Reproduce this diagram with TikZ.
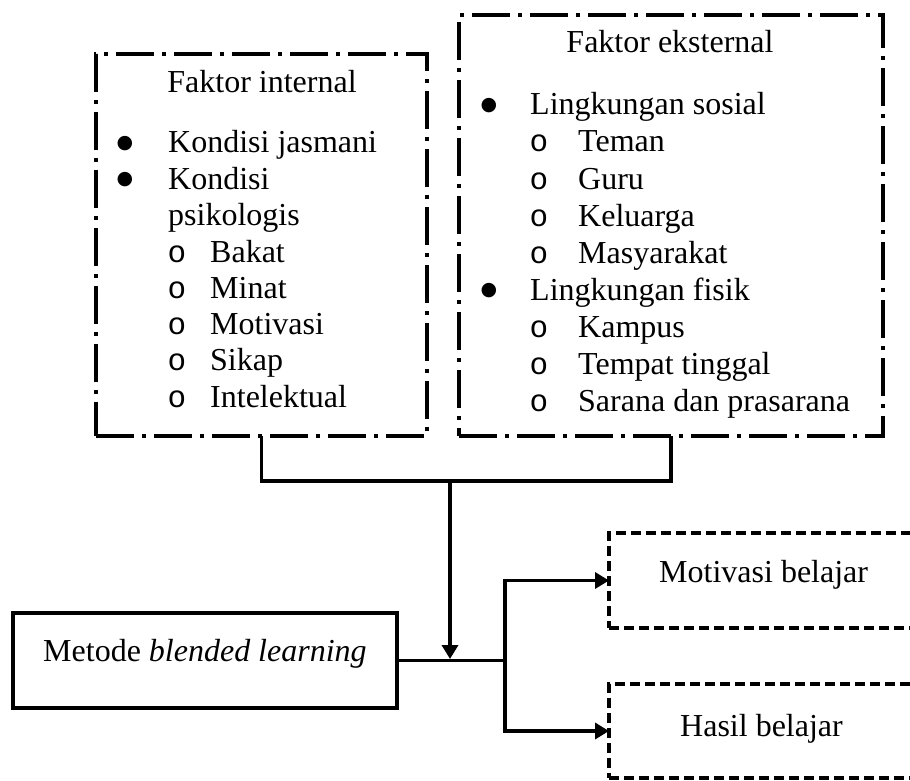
\documentclass[tikz,border=0pt]{standalone}
\usepackage{fontspec}
\setmainfont{Liberation Serif}
\newfontfamily\monofnt{Liberation Mono}
\newfontfamily\symfnt{DejaVu Sans}
\usetikzlibrary{arrows.meta}
\begin{document}
\begin{tikzpicture}[x=1pt,y=-1pt,
  dashdot/.style={draw, line width=4pt, dash pattern=on 38pt off 8pt on 4pt off 8pt},
  dashbox/.style={draw, line width=3.3pt, dash pattern=on 10pt off 5pt},
  solidbox/.style={draw, line width=3.5pt},
  box/.style={rectangle, inner sep=0pt, outer sep=0pt},
  txt/.style={anchor=base west, inner sep=0pt, font=\fontsize{32}{37}\selectfont},
  ctxt/.style={anchor=base, inner sep=0pt, font=\fontsize{32}{37}\selectfont},
  bul/.style={anchor=base, inner sep=0pt, yshift=4.5pt, font=\fontsize{19}{22}\selectfont\symfnt},
  subo/.style={anchor=base, inner sep=0pt, font=\fontsize{31}{37}\selectfont\monofnt},
  conn/.style={line width=3.5pt},
  arr/.style={conn, -{Triangle[length=14pt,width=16pt]}},
]
\clip (0,0) rectangle (910,781);

% boxes
\node[box, dashdot, minimum width=331pt, minimum height=382pt] (int) at (261.5,245) {};
\node[box, dashdot, minimum width=424pt, minimum height=421pt] (ext) at (671,225.5) {};
\node[box, solidbox, minimum width=384pt, minimum height=95pt] (met) at (205,660.5) {};
\node[box, dashbox, minimum width=321pt, minimum height=95pt] (mot) at (769.5,580.5) {};
\node[box, dashbox, minimum width=321pt, minimum height=94pt] (has) at (769.5,731) {};

% internal text
\node[ctxt] (intT) at (262,93) {Faktor internal};
\node[bul] (ib1) at (125,153) {●};
\node[txt] (i1) at (168,153) {Kondisi jasmani};
\node[bul] (ib2) at (125,189.3) {●};
\node[txt] (i2) at (168,189.3) {Kondisi};
\node[txt] (i3) at (168,225.6) {psikologis};
\node[subo] (io1) at (177,262) {o};
\node[txt] (i4) at (210,262) {Bakat};
\node[subo] (io2) at (177,298.3) {o};
\node[txt] (i5) at (210,298.3) {Minat};
\node[subo] (io3) at (177,334.6) {o};
\node[txt] (i6) at (210,334.6) {Motivasi};
\node[subo] (io4) at (177,370.9) {o};
\node[txt] (i7) at (210,370.9) {Sikap};
\node[subo] (io5) at (177,407.2) {o};
\node[txt] (i8) at (210,407.2) {Intelektual};

% external text
\node[ctxt] (extT) at (670,53) {Faktor eksternal};
\node[bul] (eb1) at (489,115) {●};
\node[txt] (e1) at (530,115) {Lingkungan sosial};
\node[subo] (eo1) at (539,152) {o};
\node[txt] (e2) at (578,152) {Teman};
\node[subo] (eo2) at (539,189) {o};
\node[txt] (e3) at (578,189) {Guru};
\node[subo] (eo3) at (539,226) {o};
\node[txt] (e4) at (578,226) {Keluarga};
\node[subo] (eo4) at (539,263) {o};
\node[txt] (e5) at (578,263) {Masyarakat};
\node[bul] (eb2) at (489,300) {●};
\node[txt] (e6) at (530,300) {Lingkungan fisik};
\node[subo] (eo5) at (539,337) {o};
\node[txt] (e7) at (578,337) {Kampus};
\node[subo] (eo6) at (539,374) {o};
\node[txt] (e8) at (578,374) {Tempat tinggal};
\node[subo] (eo7) at (539,411) {o};
\node[txt] (e9) at (578,411) {Sarana dan prasarana};

% lower texts
\node[txt] (metT) at (43,661) {Metode \textit{blended learning}};
\node[txt] (motT) at (659,582) {Motivasi belajar};
\node[txt] (hasT) at (680,736) {Hasil belajar};

% connectors
\coordinate (j1) at (450,481);
\coordinate (j2) at (450,659);
\coordinate (br) at (505,660.5);
\draw[conn] (int.south) |- (j1) -| (ext.south);
\draw[conn] (met.east) -- (br);
\draw[arr] (j1) -- (j2);
\draw[arr] (br) |- (mot.west);
\draw[arr] (br) |- (has.west);
\end{tikzpicture}
\end{document}
